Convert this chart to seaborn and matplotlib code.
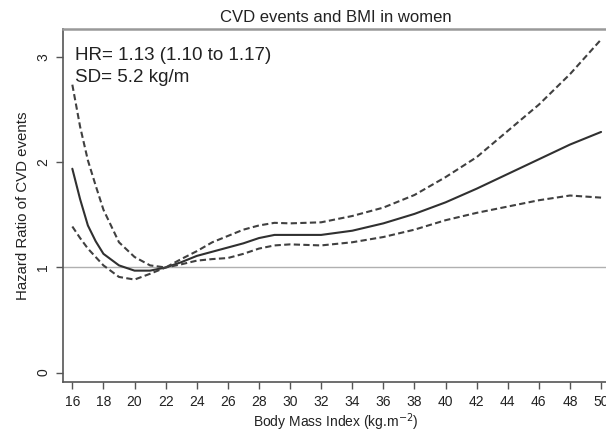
import matplotlib
matplotlib.use("Agg")
import matplotlib.pyplot as plt
import seaborn as sns
import pandas as pd

bmi = [16, 16.5, 17, 17.5, 18, 19, 20, 21, 22, 23, 24, 25, 26, 27, 28, 29, 30,
       32, 34, 36, 38, 40, 42, 44, 46, 48, 50]
hr = [1.94, 1.65, 1.40, 1.25, 1.13, 1.02, 0.97, 0.97, 1.00, 1.05, 1.11, 1.15, 1.19,
      1.23, 1.28, 1.31, 1.31, 1.31, 1.35, 1.42, 1.51, 1.62, 1.75, 1.89, 2.03, 2.17, 2.29]
upper = [2.74, 2.34, 2.02, 1.78, 1.55, 1.24, 1.10, 1.02, 1.00, 1.08, 1.155, 1.24, 1.30,
         1.36, 1.40, 1.425, 1.42, 1.43, 1.49, 1.57, 1.69, 1.86, 2.05, 2.30, 2.55, 2.84, 3.17]
lower = [1.39, 1.28, 1.18, 1.10, 1.02, 0.91, 0.885, 0.94, 1.00, 1.03, 1.065, 1.08, 1.09,
         1.13, 1.18, 1.21, 1.22, 1.21, 1.24, 1.29, 1.36, 1.45, 1.52, 1.58, 1.64, 1.685, 1.665]
xticks = list(range(16, 51, 2))
yticks = [0, 1, 2, 3]

sns.set_style("white")
plt.rcParams['font.family'] = ['Liberation Sans', 'DejaVu Sans']

df = pd.DataFrame({"bmi": bmi, "hr": hr, "upper": upper, "lower": lower})

fig = plt.figure(figsize=(6.06, 4.32), dpi=100)
ax = fig.add_axes([63/606, 50/432, 546/606, 353/432])

ax.axhline(1, color="#b0b0b0", lw=1.0, zorder=1)
sns.lineplot(data=df, x="bmi", y="hr", ax=ax, color="#303030", lw=1.5, zorder=3)
sns.lineplot(data=df, x="bmi", y="upper", ax=ax, color="#404040", lw=1.5,
             zorder=3).lines[-1].set_dashes([3, 1.6])
sns.lineplot(data=df, x="bmi", y="lower", ax=ax, color="#404040", lw=1.5,
             zorder=3).lines[-1].set_dashes([3, 1.6])

ax.set_xlim(15.40, 50.51)
ax.set_ylim(-0.09, 3.27)
ax.set_xticks(xticks)
ax.set_yticks(yticks)
ax.set_yticklabels([str(t) for t in yticks], rotation=90, va="center")
ax.tick_params(axis="both", direction="out", length=5, width=1, color="#555555",
               labelsize=10, labelcolor="#222222", left=True, bottom=True, pad=4)

for s in ["left", "bottom"]:
    ax.spines[s].set_color("#555555")
    ax.spines[s].set_linewidth(1.2)
ax.spines["top"].set_color("#999999")
ax.spines["top"].set_linewidth(1.8)
ax.spines["right"].set_visible(False)

ax.set_xlabel("Body Mass Index (kg.m$^{-2}$)", fontsize=10, color="#222222", labelpad=2)
ax.set_ylabel("Hazard Ratio of CVD events", fontsize=10.8, color="#222222", labelpad=5)
ax.set_title("CVD events and BMI in women", fontsize=12, color="#222222", pad=5)

ax.text(0.022, 0.912, "HR= 1.13 (1.10 to 1.17)", transform=ax.transAxes,
        fontsize=13.5, color="#222222", va="baseline", ha="left")
ax.text(0.022, 0.850, "SD= 5.2 kg/m", transform=ax.transAxes,
        fontsize=13.5, color="#222222", va="baseline", ha="left")

fig.savefig("out.png", dpi=100)
